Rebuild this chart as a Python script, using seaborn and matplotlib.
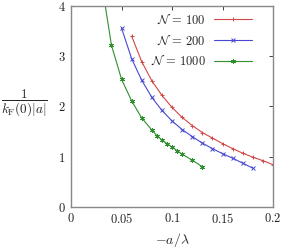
import numpy as np
import pandas as pd
import seaborn as sns
import matplotlib
matplotlib.use("Agg")
import matplotlib.pyplot as plt

# N = 100
x100 = [0.06, 0.07, 0.08, 0.09, 0.10, 0.11, 0.12, 0.13, 0.14, 0.15, 0.16, 0.17, 0.18, 0.19, 0.20]
y100 = [3.40, 2.89, 2.51, 2.22, 1.98, 1.78, 1.62, 1.48, 1.37, 1.26, 1.16, 1.07, 0.99, 0.92, 0.84]
# N = 200
x200 = [0.05, 0.06, 0.07, 0.08, 0.09, 0.10, 0.11, 0.12, 0.13, 0.14, 0.15, 0.16, 0.17, 0.18]
y200 = [3.56, 2.95, 2.52, 2.18, 1.92, 1.71, 1.54, 1.40, 1.27, 1.16, 1.06, 0.97, 0.87, 0.77]
# N = 1000
x1000 = [0.03, 0.04, 0.05, 0.06, 0.07, 0.08, 0.085, 0.09, 0.095, 0.10, 0.105, 0.11, 0.12, 0.13]
y1000 = [4.50, 3.22, 2.54, 2.11, 1.77, 1.53, 1.42, 1.33, 1.26, 1.19, 1.12, 1.05, 0.93, 0.80]

xticks = [0, 0.05, 0.1, 0.15, 0.2]
xticklabels = ['$0$', '$0.05$', '$0.1$', '$0.15$', '$0.2$']
yticks = [0, 1, 2, 3, 4]
yticklabels = ['$0$', '$1$', '$2$', '$3$', '$4$']

sns.set_style("white")
plt.rcParams['mathtext.fontset'] = 'cm'
plt.rcParams['font.family'] = ['DejaVu Serif']

df = pd.concat([
    pd.DataFrame({'x': x100, 'y': y100, 'N': r'$\mathcal{N}\,=\,100$'}),
    pd.DataFrame({'x': x200, 'y': y200, 'N': r'$\mathcal{N}\,=\,200$'}),
    pd.DataFrame({'x': x1000, 'y': y1000, 'N': r'$\mathcal{N}\,=\,1000$'}),
])

fig = plt.figure(figsize=(2.83, 2.49), dpi=100)
ax = fig.add_axes([0.251, 0.169, 0.714, 0.807])

colors = ['#d04848', '#4848d0', '#2f8f2f']
markers = ['+', 'x', (6, 2, 0)]
for (name, grp), c, m in zip(df.groupby('N', sort=False), colors, markers):
    sns.lineplot(data=grp, x='x', y='y', ax=ax, color=c, marker=m,
                 markersize=3.5, markeredgewidth=0.7, linewidth=0.8,
                 label=name, markeredgecolor=c)

ax.set_xlim(0, 0.2)
ax.set_ylim(0, 4)
ax.set_xticks(xticks)
ax.set_xticklabels(xticklabels)
ax.set_yticks(yticks)
ax.set_yticklabels(yticklabels)
ax.tick_params(direction='in', top=True, right=True, length=3, width=0.6,
               labelsize=9, colors='#222222', pad=4)
for s in ax.spines.values():
    s.set_color('#888888')
    s.set_linewidth(1.0)

ax.set_xlabel(r'$-a/\lambda$', fontsize=10, labelpad=3)
ax.set_ylabel(r'$\dfrac{1}{k_{\rm F}(0)|a|}$', fontsize=9.5, rotation=0,
              labelpad=6, va='center')
ax.yaxis.set_label_coords(-0.232, 0.52)

leg = ax.legend(loc='upper right', frameon=False, markerfirst=False,
                fontsize=9, handlelength=3.0, handletextpad=0.7,
                labelspacing=0.6, borderaxespad=0.1,
                bbox_to_anchor=(0.925, 0.995))

fig.savefig('out.png', dpi=100)
